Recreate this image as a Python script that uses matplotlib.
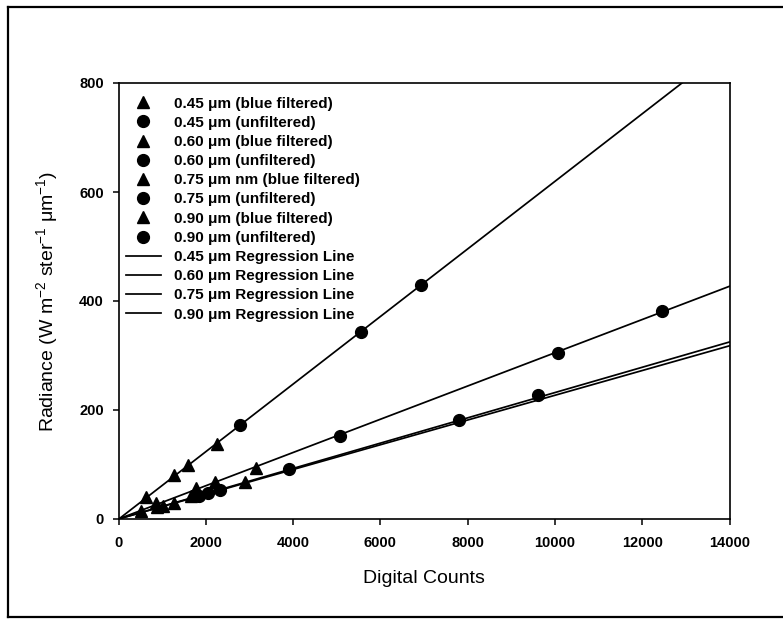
import matplotlib
matplotlib.use("Agg")
import matplotlib.pyplot as plt
from matplotlib.lines import Line2D
import numpy as np

plt.rcParams['font.family'] = ['Liberation Sans', 'DejaVu Sans']
plt.rcParams['mathtext.fontset'] = 'custom'
plt.rcParams['mathtext.rm'] = 'Liberation Sans'
plt.rcParams['mathtext.default'] = 'regular'

# blue filtered (triangles) and unfiltered (circles) calibration points
x_045_blue = [630, 1280, 1590, 2250]
y_045_blue = [41, 81, 99, 138]
x_045_unf = [2790, 5560, 6920]
y_045_unf = [172, 343, 430]

x_060_blue = [870, 1780, 2220, 3150]
y_060_blue = [29, 56, 68, 93]
x_060_unf = [5070, 10060, 12460]
y_060_unf = [153, 305, 382]

x_075_blue = [510, 1010, 1650, 2900]
y_075_blue = [14, 24, 42, 67]
x_075_unf = [1850, 2330, 3900, 7800]
y_075_unf = [43, 54, 91, 182]

x_090_blue = [880, 1280, 1750]
y_090_blue = [22, 30, 45]
x_090_unf = [2060, 9620]
y_090_unf = [47, 227]

# regression lines (slope, intercept)
reg_names = ['0.45', '0.60', '0.75', '0.90']
reg_slope = [0.0620, 0.0305, 0.0232, 0.0227]
reg_intercept = [-0.5, 0.0, 0.0, 0.0]

xticks = [0, 2000, 4000, 6000, 8000, 10000, 12000, 14000]
yticks = [0, 200, 400, 600, 800]

fig = plt.figure(figsize=(7.83, 6.2), dpi=100)
ax = fig.add_axes([118.5/783, 1-519/620, 611/783, 436/620])

mu = '\u03bcm'
tri = dict(marker='^', linestyle='none', color='black', markersize=8)
dot = dict(marker='o', linestyle='none', color='black', markersize=8.5)

ax.plot(x_045_blue, y_045_blue, label='0.45 ' + mu + ' (blue filtered)', **tri)
ax.plot(x_045_unf, y_045_unf, label='0.45 ' + mu + ' (unfiltered)', **dot)
ax.plot(x_060_blue, y_060_blue, label='0.60 ' + mu + ' (blue filtered)', **tri)
ax.plot(x_060_unf, y_060_unf, label='0.60 ' + mu + ' (unfiltered)', **dot)
ax.plot(x_075_blue, y_075_blue, label='0.75 ' + mu + ' nm (blue filtered)', **tri)
ax.plot(x_075_unf, y_075_unf, label='0.75 ' + mu + ' (unfiltered)', **dot)
ax.plot(x_090_blue, y_090_blue, label='0.90 ' + mu + ' (blue filtered)', **tri)
ax.plot(x_090_unf, y_090_unf, label='0.90 ' + mu + ' (unfiltered)', **dot)

xl = np.array([0, 14000])
for name, m, b in zip(reg_names, reg_slope, reg_intercept):
    ax.plot(xl, m * xl + b, color='black', linewidth=1.25,
            label=name + ' ' + mu + ' Regression Line')

ax.set_xlim(0, 14000)
ax.set_ylim(0, 800)
ax.set_xticks(xticks)
ax.set_yticks(yticks)
ax.tick_params(axis='both', direction='out', length=4.5, width=1.1, labelsize=10.5)
ax.tick_params(axis='x', pad=8)
ax.tick_params(axis='y', pad=6)
for lab in ax.get_xticklabels() + ax.get_yticklabels():
    lab.set_fontweight('bold')
for s in ax.spines.values():
    s.set_linewidth(1.2)

ax.set_xlabel('Digital Counts', fontsize=14, labelpad=14)
ax.set_ylabel('Radiance (W m$^{-2}$ ster$^{-1}$ ' + mu + '$^{-1}$)', fontsize=14, labelpad=14)

leg = ax.legend(loc='upper left', bbox_to_anchor=(0.012, 0.969), frameon=False,
                prop={'size': 11, 'weight': 'bold'}, handlelength=2.3,
                handletextpad=0.85, labelspacing=0.34, borderpad=0, borderaxespad=0)

# page frame (left, top, bottom)
fw = 1.6
fig.add_artist(Line2D([8/783, 8/783], [1-7/620, 1-617/620], transform=fig.transFigure, color='black', lw=fw))
fig.add_artist(Line2D([8/783, 1], [1-7/620, 1-7/620], transform=fig.transFigure, color='black', lw=fw))
fig.add_artist(Line2D([8/783, 1], [1-617/620, 1-617/620], transform=fig.transFigure, color='black', lw=fw))

fig.savefig('out.png', dpi=100)
